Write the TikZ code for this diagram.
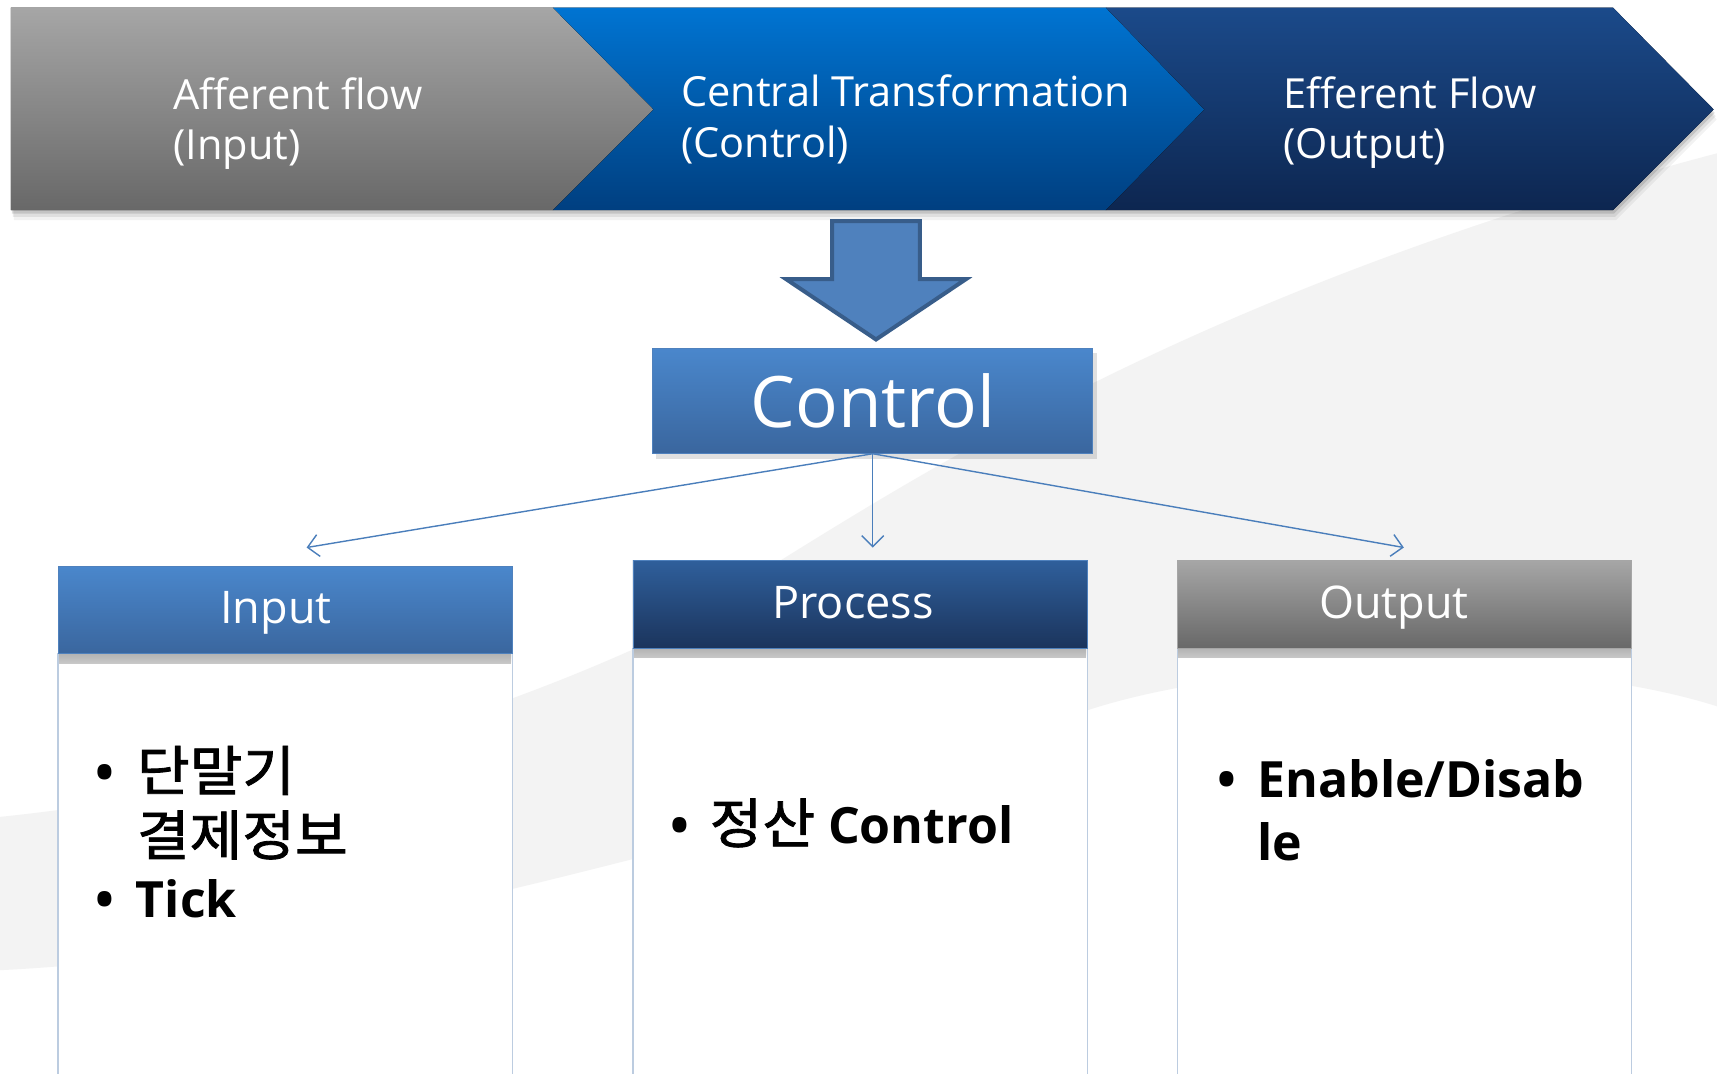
\documentclass[tikz,border=0pt]{standalone}
\usepackage{fontspec}
\setmainfont{Open Sans}
\newfontfamily\kr[FakeBold=1.6,FakeStretch=1.06]{Noto Sans CJK KR}
\usetikzlibrary{arrows.meta}
\definecolor{grayT}{HTML}{A6A6A6}
\definecolor{grayB}{HTML}{686868}
\definecolor{blueT}{HTML}{0074D2}
\definecolor{blueB}{HTML}{003F80}
\definecolor{navyT}{HTML}{1B4A8A}
\definecolor{navyB}{HTML}{0D2650}
\definecolor{midT}{HTML}{4A87CC}
\definecolor{midB}{HTML}{3A669E}
\definecolor{procT}{HTML}{2F5F9B}
\definecolor{procB}{HTML}{1B345C}
\definecolor{arrowFill}{HTML}{4F81BD}
\definecolor{arrowLine}{HTML}{385D8A}
\definecolor{connC}{HTML}{4A7EBB}
\definecolor{bodyLine}{HTML}{BCCCE0}
\definecolor{swooshC}{HTML}{F3F3F3}
\tikzset{
  bandtxt/.style={anchor=base west, inner sep=0pt, text=white, font=\fontsize{41.5}{50}\selectfont},
  hdr/.style={minimum width=454.4pt, minimum height=87.6pt, inner sep=0pt, text=white, font=\fontsize{45}{52}\selectfont},
  hdrtxt/.style={anchor=base, inner sep=0pt, text=white, font=\fontsize{45}{52}\selectfont},
  bodybox/.style={fill=white, draw=bodyLine, line width=1.2pt},
  conn/.style={draw=connC, line width=1.4pt, -{Straight Barb[length=11pt,width=22pt,line width=1.4pt]}},
  bodytxt/.style={anchor=base west, inner sep=0pt, text=black, font=\fontsize{50}{60}\selectfont\bfseries},
  krtxt/.style={anchor=base west, inner sep=0pt, text=black, font=\fontsize{54}{60}\kr\selectfont},
  hshadow/.style={top color=black!28, bottom color=white, opacity=0.3},
}
\begin{document}
\begin{tikzpicture}[x=1.095pt,y=-1.095pt]
\useasboundingbox (0,0) rectangle (1568,980);
\clip (0,0) rectangle (1568,980);
\fill[white] (0,0) rectangle (1568,980);
% background swoosh
\fill[swooshC] (0,746) .. controls (250,720) and (450,650) .. (576,594)
  .. controls (750,500) and (1000,290) .. (1568,140) -- (1568,645)
  .. controls (1420,598) and (1150,598) .. (995,648)
  .. controls (800,715) and (700,760) .. (576,785)
  .. controls (400,830) and (200,876) .. (0,886) -- cycle;
% band shadow
\foreach \d/\o in {9/0.05,6/0.08,3/0.12}{
  \fill[black, opacity=\o] (10+\d*0.3,7+\d) -- (1473+\d*0.3,7+\d) -- (1565+\d*0.3,100+\d) -- (1473+\d*0.3,192+\d) -- (10+\d*0.3,192+\d) -- cycle;
}
% chevrons
\fill[top color=grayT, bottom color=grayB] (10,7) -- (505,7) -- (597,100) -- (505,192) -- (10,192) -- cycle;
\fill[top color=blueT, bottom color=blueB] (505,7) -- (1010,7) -- (1100,100) -- (1010,192) -- (505,192) -- (597,100) -- cycle;
\fill[top color=navyT, bottom color=navyB] (1010,7) -- (1473,7) -- (1565,100) -- (1473,192) -- (1010,192) -- (1100,100) -- cycle;
\node[bandtxt] (af1) at (158,100) {Afferent flow};
\node[bandtxt] (af2) at (158,146) {(Input)};
\node[bandtxt] (ct1) at (622,97) {Central Transformation};
\node[bandtxt] (ct2) at (622,144) {(Control)};
\node[bandtxt] (ef1) at (1172,99) {Efferent Flow};
\node[bandtxt] (ef2) at (1172,145) {(Output)};
% big down arrow
\draw[fill=arrowFill, draw=arrowLine, line width=4pt, line join=miter]
  (760,202) -- (840,202) -- (840,255) -- (882,255) -- (800,310) -- (718,255) -- (760,255) -- cycle;
% control box
\fill[black, opacity=0.12] (599,322) rectangle (1002,419);
\node[top color=midT, bottom color=midB, draw=arrowFill, line width=0.8pt,
  minimum width=440.2pt, minimum height=105.1pt, inner sep=0pt, text=white,
  font=\fontsize{71}{80}\selectfont] (ctrl) at (797,366) {Control};
% body boxes
\draw[bodybox] (53,597) rectangle (468,995);
\draw[bodybox] (578,592) rectangle (993,995);
\draw[bodybox] (1075,592) rectangle (1490,995);
\fill[hshadow] (54,597) rectangle (467,606);
\fill[hshadow] (579,592) rectangle (992,601);
\fill[hshadow] (1076,592) rectangle (1489,601);
% headers
\node[hdr, top color=midT, bottom color=midB, draw=arrowFill, line width=0.8pt] (hin) at (260.5,557) {};
\node[hdr, top color=procT, bottom color=procB, draw=arrowFill, line width=0.8pt] (hpr) at (785.5,552) {};
\node[hdr, top color=grayT, bottom color=grayB, draw=grayT, line width=0.8pt] (hout) at (1282.5,552) {};
\node[hdrtxt] (hint) at (252,569) {Input};
\node[hdrtxt] (hprt) at (779,565) {Process};
\node[hdrtxt] (houtt) at (1273,565) {Output};
% connectors
\coordinate (inEnd) at (280,500);
\coordinate (prEnd) at (797,500);
\coordinate (outEnd) at (1282,500);
\draw[conn] (ctrl.south) -- (inEnd);
\draw[conn] (ctrl.south) -- (prEnd);
\draw[conn] (ctrl.south) -- (outEnd);
% body texts
\node[bodytxt] (bi1) at (87,722) {•};
\node[krtxt] (ti1) at (125,722) {단말기};
\node[krtxt] (ti2) at (125,781) {결제정보};
\node[bodytxt] (bi2) at (87,838) {•};
\node[bodytxt] (ti3) at (124,838) {Tick};
\node[bodytxt] (bp1) at (612,770) {•};
\node[bodytxt] (tp1) at (648,770) {{\fontsize{54}{60}\kr\mdseries 정산} Control};
\node[bodytxt] (bo1) at (1112,728) {•};
\node[bodytxt] (to1) at (1148,728) {Enable/Disab};
\node[bodytxt] (to2) at (1148,786) {le};
\end{tikzpicture}
\end{document}
